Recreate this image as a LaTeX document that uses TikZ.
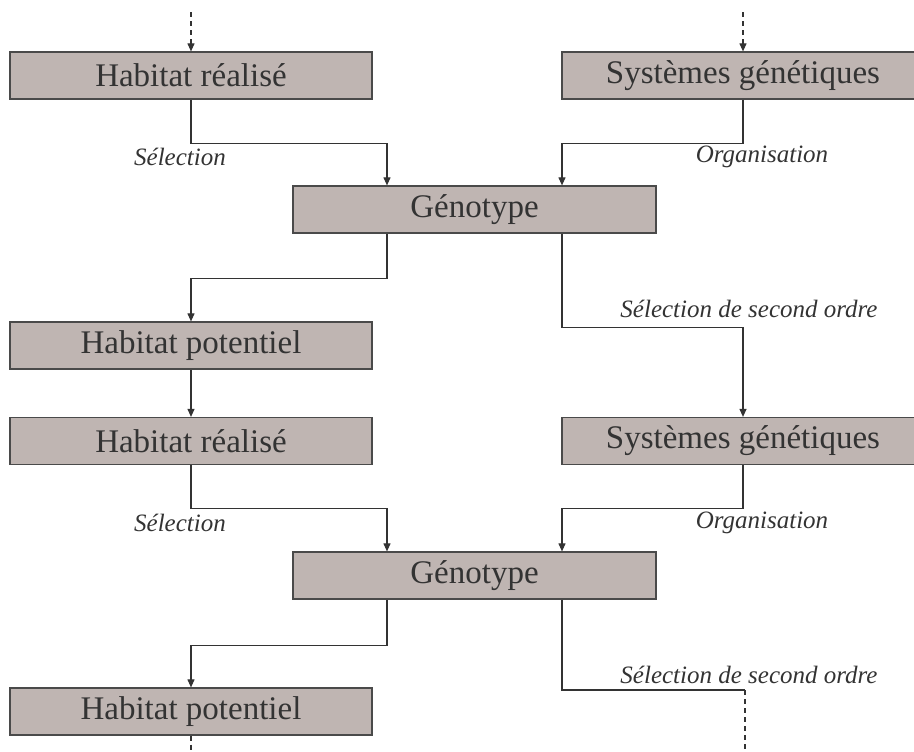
\documentclass[tikz,border=0pt]{standalone}
\usepackage{fontspec}
\setmainfont{Liberation Serif}
\usetikzlibrary{arrows.meta,positioning,calc}
\definecolor{boxfill}{HTML}{BFB5B2}
\definecolor{boxline}{HTML}{4A4A4A}
\definecolor{inkgrey}{HTML}{333333}
\tikzset{
  stagebox/.style={draw=boxline, fill=boxfill, line width=1.2pt, text=inkgrey,
    minimum width=362pt, minimum height=47pt, inner sep=0pt,
    font=\fontsize{33}{36}\selectfont},
  steplabel/.style={text=inkgrey, inner sep=0pt, font=\fontsize{25}{28}\selectfont\itshape},
  flow/.style={draw=inkgrey, line width=1.1pt, -{Triangle[length=8pt,width=7pt]}},
  plainflow/.style={draw=inkgrey, line width=1.1pt},
  openflow/.style={draw=inkgrey, line width=1.1pt, dash pattern=on 5pt off 4pt}
}

\begin{document}
\begin{tikzpicture}[x=1pt, y=-1pt]
  \clip (0,0) rectangle (914,752);
  \useasboundingbox (0,0) rectangle (914,752);
  % first cycle
  \node[stagebox] (hr1) at (191,75.5) {Habitat réalisé};
  \node[stagebox] (sg1) at (743,75.5) {Systèmes génétiques};
  \node[stagebox, minimum width=363pt] (gen1) at (474.5,209.5) {Génotype};
  \node[stagebox] (hp1) at (191,345.5) {Habitat potentiel};
  % second cycle
  \node[stagebox] (hr2) at (191,441) {Habitat réalisé};
  \node[stagebox] (sg2) at (743,441) {Systèmes génétiques};
  \node[stagebox, minimum width=363pt] (gen2) at (474.5,575.5) {Génotype};
  \node[stagebox] (hp2) at (191,711.5) {Habitat potentiel};

  \node[steplabel] (sel1) at (180,157) {Sélection};
  \node[steplabel] (org1) at (762,157) {Organisation};
  \node[steplabel] (sso1) at (749,309) {Sélection de second ordre};
  \node[steplabel] (sel2) at (180,523) {Sélection};
  \node[steplabel] (org2) at (762,523) {Organisation};
  \node[steplabel] (sso2) at (749,675) {Sélection de second ordre};

  \foreach \g in {gen1,gen2} {
    \coordinate (\g tl) at ([xshift=-87.5pt]\g.north);
    \coordinate (\g tr) at ([xshift=87.5pt]\g.north);
    \coordinate (\g bl) at ([xshift=-87.5pt]\g.south);
    \coordinate (\g br) at ([xshift=87.5pt]\g.south);
  }
  \coordinate (top1) at ([yshift=39pt]hr1.north);
  \coordinate (top2) at ([yshift=39pt]sg1.north);
  \coordinate (out1) at (191,752);
  \coordinate (bend2) at (745,690);
  \coordinate (out2) at (745,752);

  \draw[openflow, -{Triangle[length=8pt,width=7pt]}] (top1) -- (hr1.north);
  \draw[openflow, -{Triangle[length=8pt,width=7pt]}] (top2) -- (sg1.north);
  \draw[flow] (hr1.south) -- ++(0,44) -| (gen1tl);
  \draw[flow] (sg1.south) -- ++(0,44) -| (gen1tr);
  \draw[flow] (gen1bl) -- ++(0,45) -| (hp1.north);
  \draw[flow] (gen1br) -- ++(0,94) -| (sg2.north);
  \draw[flow] (hp1) -- (hr2);
  \draw[flow] (hr2.south) -- ++(0,43.5) -| (gen2tl);
  \draw[flow] (sg2.south) -- ++(0,43.5) -| (gen2tr);
  \draw[flow] (gen2bl) -- ++(0,46) -| (hp2.north);
  \draw[plainflow] (gen2br) |- (bend2);
  \draw[openflow] (bend2) -- (out2);
  \draw[openflow] (hp2.south) -- (out1);
\end{tikzpicture}
\end{document}
